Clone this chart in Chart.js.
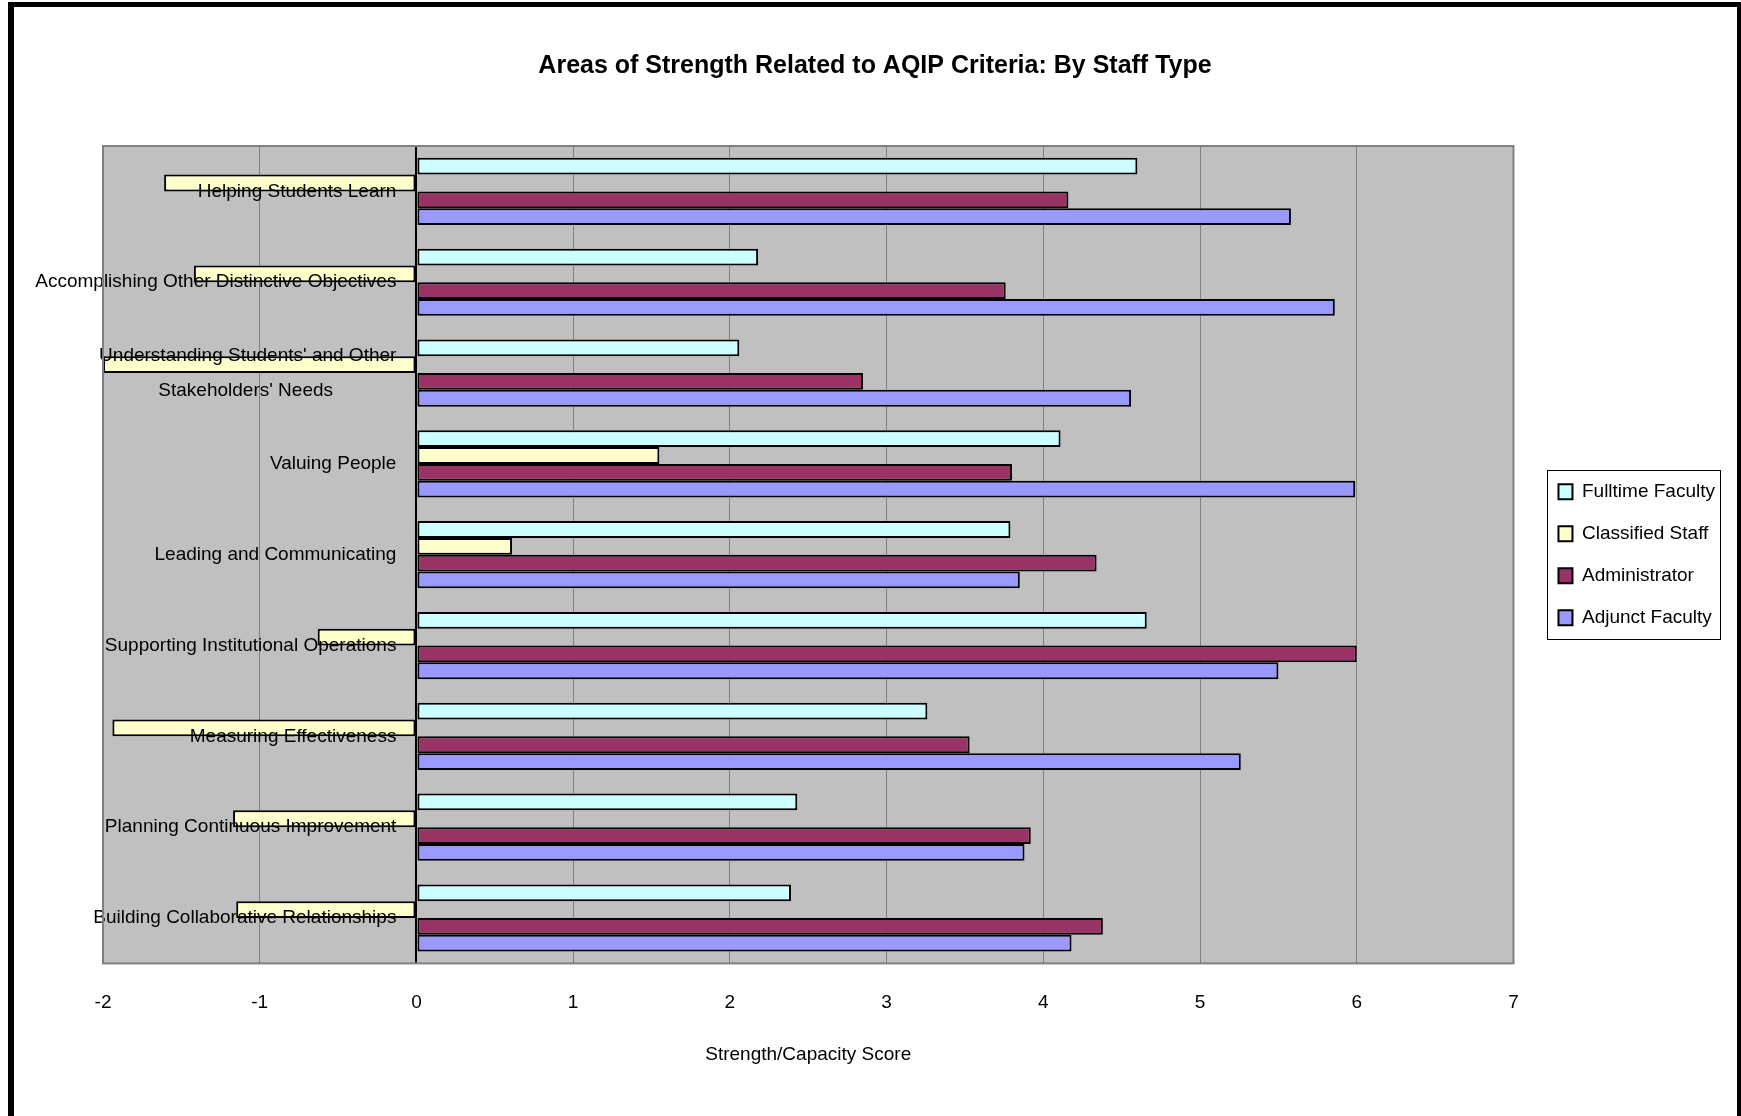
<!DOCTYPE html>
<html>
<head>
<meta charset="utf-8">
<title>Areas of Strength Related to AQIP Criteria</title>
<script src="https://cdn.jsdelivr.net/npm/chart.js@4/dist/chart.umd.min.js"></script>
<style>
    html, body { margin: 0; padding: 0; background: #fff; overflow: hidden; }
    #wrap { position: relative; width: 1741px; height: 1116px; }
    #chart { position: absolute; left: 0; top: 0; }
    #frame {
        position: absolute; left: 8px; top: 2px; width: 1723px; height: 1200px;
        border-top: 5px solid #000; border-left: 6px solid #000; border-right: 4px solid #000;
        pointer-events: none;
    }
</style>
</head>
<body>
<div id="wrap">
    <canvas id="chart" width="1741" height="1116"></canvas>
    <div id="frame"></div>
</div>
<script>
// AQIP criteria (top to bottom)
const criteria = [
    'Helping Students Learn',
    'Accomplishing Other Distinctive Objectives',
    ["Understanding Students' and Other", "Stakeholders' Needs            "],
    'Valuing People',
    'Leading and Communicating',
    'Supporting Institutional Operations',
    'Measuring Effectiveness',
    'Planning Continuous Improvement',
    'Building Collaborative Relationships',
];

// Strength/capacity scores by staff type
const fulltimeFaculty = [4.60, 2.18, 2.06, 4.11, 3.79, 4.66, 3.26, 2.43, 2.39];
const classifiedStaff = [-1.61, -1.42, -2.00, 1.55, 0.61, -0.63, -1.94, -1.17, -1.15];
const administrator   = [4.16, 3.76, 2.85, 3.80, 4.34, 6.00, 3.53, 3.92, 4.38];
const adjunctFaculty  = [5.58, 5.86, 4.56, 5.99, 3.85, 5.50, 5.26, 3.88, 4.18];

const scoreTicks = [-2, -1, 0, 1, 2, 3, 4, 5, 6, 7];

const chartTitle = 'Areas of Strength Related to AQIP Criteria: By Staff Type';
const axisTitle = 'Strength/Capacity Score';

const fontFamily = "'Liberation Sans Narrow', 'Arial Narrow', 'Liberation Sans', Arial, sans-serif";
Chart.defaults.font.family = fontFamily;
Chart.defaults.font.size = 19;
Chart.defaults.color = '#000';

// grey plot area with a thin frame
const plotArea = {
    id: 'plotArea',
    beforeDraw(chart) {
        const { ctx, chartArea: a } = chart;
        ctx.save();
        ctx.fillStyle = '#c0c0c0';
        ctx.fillRect(a.left, a.top, a.right - a.left, a.bottom - a.top);
        ctx.restore();
    },
    afterDraw(chart) {
        const { ctx, chartArea: a } = chart;
        ctx.save();
        ctx.strokeStyle = '#808080';
        ctx.lineWidth = 2;
        ctx.strokeRect(a.left, a.top, a.right - a.left, a.bottom - a.top);
        ctx.restore();
    }
};

// box around the legend items
const legendFrame = {
    id: 'legendFrame',
    afterDraw(chart) {
        const boxes = chart.legend.legendHitBoxes;
        if (!boxes || !boxes.length) return;
        const left = Math.min(...boxes.map(b => b.left)) - 11;
        const right = Math.max(...boxes.map(b => b.left + b.width)) + 5;
        const top = boxes[0].top - 12;
        const last = boxes[boxes.length - 1];
        const bottom = last.top + last.height + 12;
        const ctx = chart.ctx;
        ctx.save();
        ctx.strokeStyle = '#000';
        ctx.lineWidth = 1;
        ctx.strokeRect(Math.round(left) + 0.5, Math.round(top) + 0.5, Math.round(right - left), Math.round(bottom - top));
        ctx.restore();
    }
};

// title centred over the whole chart object
const centredTitle = {
    id: 'centredTitle',
    afterDraw(chart) {
        const ctx = chart.ctx;
        ctx.save();
        ctx.font = 'bold 25px ' + fontFamily;
        ctx.fillStyle = '#000';
        ctx.textAlign = 'center';
        ctx.textBaseline = 'middle';
        ctx.fillText(chartTitle, 875, 66);
        ctx.restore();
    }
};

function series(label, data, color) {
    return {
        label: label,
        data: data,
        backgroundColor: color,
        borderColor: '#000',
        borderWidth: 2,
        borderSkipped: false,
        categoryPercentage: 0.74,
        barPercentage: 1.0,
    };
}

const ctx = document.getElementById('chart').getContext('2d');
const chart = new Chart(ctx, {
    type: 'bar',
    data: {
        labels: criteria,
        datasets: [
            series('Fulltime Faculty', fulltimeFaculty, '#ccffff'),
            series('Classified Staff', classifiedStaff, '#ffffcc'),
            series('Administrator', administrator, '#993366'),
            series('Adjunct Faculty', adjunctFaculty, '#9999ff'),
        ],
    },
    options: {
        indexAxis: 'y',
        responsive: false,
        animation: false,
        layout: { padding: { left: 103, top: 146, right: 16, bottom: 50 } },
        plugins: {
            title: { display: false },
            tooltip: { enabled: false },
            legend: {
                position: 'right',
                fullSize: false,
                labels: {
                    boxWidth: 14,
                    boxHeight: 15,
                    padding: 23,
                    font: { size: 19 },
                    color: '#000',
                },
            },
        },
        scales: {
            x: {
                type: 'linear',
                min: scoreTicks[0],
                max: scoreTicks[scoreTicks.length - 1],
                afterBuildTicks: scale => { scale.ticks = scoreTicks.map(v => ({ value: v })); },
                // the zero line is the black category axis
                grid: {
                    color: c => (c.tick && c.tick.value === 0 ? '#000' : '#808080'),
                    lineWidth: c => (c.tick && c.tick.value === 0 ? 2 : 1),
                    drawTicks: false,
                },
                border: { display: false },
                ticks: { padding: 28, font: { size: 19 }, color: '#000' },
                title: { display: true, text: axisTitle, font: { size: 19 }, color: '#000', padding: { top: 1, bottom: 0 } },
            },
            y: {
                type: 'category',
                // labels sit just left of the zero line
                position: { x: -0.128 },
                grid: { display: false },
                border: { display: false },
                ticks: { z: 1, font: { size: 19, lineHeight: 1.85 }, color: '#000', autoSkip: false },
            },
            // empty axis that keeps a gap between the plot and the legend
            gap: {
                type: 'linear',
                axis: 'y',
                position: 'right',
                grid: { display: false },
                border: { display: false },
                ticks: { display: false },
                afterFit: scale => { scale.width = 22; },
            },
        },
    },
    plugins: [plotArea, legendFrame, centredTitle],
});
</script>
</body>
</html>
